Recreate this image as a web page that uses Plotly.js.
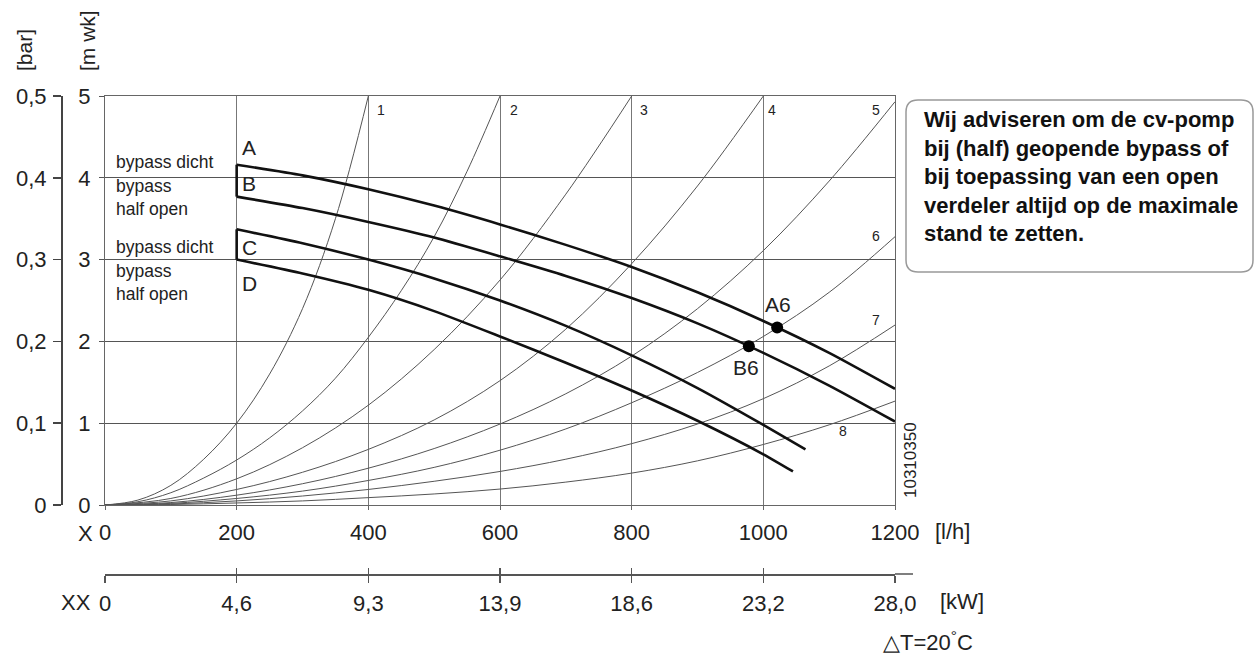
<!DOCTYPE html>
<html>
<head>
<meta charset="utf-8">
<script src="https://cdn.plot.ly/plotly-3.0.1.min.js"></script>
<style>
  html, body { margin: 0; padding: 0; background: #fff; }
  #chart { width: 1259px; height: 657px; }
</style>
</head>
<body>
<div id="chart"></div>
<script>
// Pump curves (head in m wk against flow in l/h)
const flowAB = [200, 300, 400, 500, 600, 700, 800, 900, 1000, 1100, 1200];
const headA = [4.16, 4.03, 3.86, 3.66, 3.43, 3.18, 2.91, 2.60, 2.25, 1.86, 1.42];
const headB = [3.77, 3.63, 3.46, 3.27, 3.04, 2.80, 2.53, 2.22, 1.86, 1.46, 1.02];
const flowC = [200, 300, 400, 500, 600, 700, 800, 900, 1000, 1064];
const headC = [3.37, 3.20, 3.00, 2.77, 2.50, 2.19, 1.83, 1.43, 0.98, 0.68];
const flowD = [200, 300, 400, 500, 600, 700, 800, 900, 1000, 1045];
const headD = [3.00, 2.83, 2.63, 2.37, 2.06, 1.74, 1.40, 1.03, 0.62, 0.41];

// System resistance curves 1..8
const sysFlow1 = [0, 50, 100, 150, 200, 250, 300, 350, 400];
const sysHead1 = [0, 0.06, 0.24, 0.56, 1.0, 1.6, 2.4, 3.5, 5.0];
const sysFlow2 = [0, 50, 100, 150, 200, 250, 300, 350, 400, 450, 500, 550, 600];
const sysHead2 = [0, 0.04, 0.15, 0.33, 0.55, 0.82, 1.15, 1.55, 2.05, 2.62, 3.28, 4.08, 5.0];
const sysFlow3 = [0, 100, 200, 300, 400, 500, 600, 700, 800];
const sysHead3 = [0, 0.08, 0.32, 0.70, 1.22, 1.90, 2.75, 3.80, 5.0];
const sysFlow4 = [0, 100, 200, 300, 400, 500, 600, 700, 800, 900, 1000];
const sysHead4 = [0, 0.05, 0.19, 0.40, 0.68, 1.04, 1.52, 2.15, 2.95, 3.90, 5.0];
const sysFlowLong = [0, 100, 200, 300, 400, 500, 600, 700, 800, 900, 1000, 1100, 1200];
const sysHead5 = [0, 0.03, 0.12, 0.26, 0.45, 0.69, 0.99, 1.36, 1.82, 2.40, 3.11, 3.96, 4.93];
const sysHead6 = [0, 0.02, 0.08, 0.17, 0.30, 0.46, 0.67, 0.93, 1.25, 1.62, 2.06, 2.60, 3.28];
const sysHead7 = [0, 0.012, 0.05, 0.11, 0.19, 0.29, 0.41, 0.56, 0.75, 0.99, 1.30, 1.70, 2.20];
const sysHead8 = [0, 0.006, 0.025, 0.05, 0.09, 0.135, 0.195, 0.28, 0.39, 0.54, 0.74, 0.98, 1.27];

// Operating points
const opFlow = [1021, 978];
const opHead = [2.17, 1.94];
const opLabels = ['A6', 'B6'];

// Axis ticks
const flowTicks = [0, 200, 400, 600, 800, 1000, 1200];
const kwTickText = ['0', '4,6', '9,3', '13,9', '18,6', '23,2', '28,0'];
const headTicks = [0, 1, 2, 3, 4, 5];
const barTicks = [0, 0.1, 0.2, 0.3, 0.4, 0.5];
const barTickText = ['0', '0,1', '0,2', '0,3', '0,4', '0,5'];

const FONT = 'Liberation Sans, Arial, sans-serif';
const W = 1259, H = 657;
const M = { l: 61, r: 0, t: 96, b: 40 };
const PW = W - M.l - M.r, PH = H - M.t - M.b;
// pixel -> paper helpers for the decorations outside the plot
const px = x => (x - M.l) / PW;
const py = y => (H - M.b - y) / PH;
// pixel -> data helpers for labels inside the plot
const PLOT = { x0: 105, x1: 895, y0: 505, y1: 96 };
const dx = x => (x - PLOT.x0) / (PLOT.x1 - PLOT.x0) * 1200;
const dy = y => (PLOT.y0 - y) / (PLOT.y0 - PLOT.y1) * 5;

const thin = { color: '#555', width: 1, shape: 'spline', smoothing: 1 };
const thick = { color: '#111', width: 2.6, shape: 'spline', smoothing: 0.6 };
const join = { color: '#111', width: 2.6 };

function sys(x, y) {
    return { x, y, type: 'scatter', mode: 'lines', line: thin, hoverinfo: 'skip', showlegend: false };
}
function pump(x, y) {
    return { x, y, type: 'scatter', mode: 'lines', line: thick, showlegend: false };
}

const traces = [
    sys(sysFlow1, sysHead1),
    sys(sysFlow2, sysHead2),
    sys(sysFlow3, sysHead3),
    sys(sysFlow4, sysHead4),
    sys(sysFlowLong, sysHead5),
    sys(sysFlowLong, sysHead6),
    sys(sysFlowLong, sysHead7),
    sys(sysFlowLong, sysHead8),
    pump(flowAB, headA),
    pump(flowAB, headB),
    pump(flowC, headC),
    pump(flowD, headD),
    // vertical joins between the closed/half-open pairs at the first flow point
    { x: [flowAB[0], flowAB[0]], y: [headB[0], headA[0]], mode: 'lines', line: join, showlegend: false },
    { x: [flowC[0], flowD[0]], y: [headD[0], headC[0]], mode: 'lines', line: join, showlegend: false },
    { x: opFlow, y: opHead, mode: 'markers', marker: { color: '#000', size: 12 }, showlegend: false },
    // empty traces so the extra axes are drawn
    { x: [], y: [], xaxis: 'x2', yaxis: 'y', showlegend: false },
    { x: [], y: [], xaxis: 'x3', yaxis: 'y', showlegend: false },
    { x: [], y: [], xaxis: 'x', yaxis: 'y2', showlegend: false },
];

const xDomain = [px(PLOT.x0), px(PLOT.x1)];
const yDomain = [py(PLOT.y0), 1];

const annotations = [];
function note(text, x, y, opts = {}) {
    annotations.push(Object.assign({
        text, x, y, xref: 'paper', yref: 'paper', showarrow: false,
        xanchor: 'center', yanchor: 'middle',
        font: { family: FONT, size: 22, color: '#222' },
    }, opts));
}
function label(text, x, y, size, opts = {}) {
    annotations.push(Object.assign({
        text, x: dx(x), y: dy(y), xref: 'x', yref: 'y', showarrow: false,
        xanchor: 'center', yanchor: 'middle',
        font: { family: FONT, size, color: '#222' },
    }, opts));
}

// axis captions
note('[bar]', px(25), py(50), { textangle: -90, font: { family: FONT, size: 21, color: '#222' } });
note('[m wk]', px(88), py(41), { textangle: -90, font: { family: FONT, size: 21, color: '#222' } });
note('X', px(85), py(533));
note('[l/h]', px(952), py(531));
note('XX', px(76), py(602));
note('[kW]', px(938), py(601), { xanchor: 'left' });
note('\u25B3T=20<sup>°</sup>C', px(928), py(641));
note('10310350', px(910), py(460), { textangle: -90, font: { family: FONT, size: 17, color: '#222' } });

// curve numbers
const curveLabels = [['1', 381, 110], ['2', 514, 110], ['3', 644, 110], ['4', 772, 110],
    ['5', 876, 110], ['6', 876, 236], ['7', 876, 320], ['8', 843, 431]];
for (const [t, x, y] of curveLabels) label(t, x, y, 14);

// pump curve letters and bypass captions
for (const [t, y] of [['A', 147], ['B', 183], ['C', 247], ['D', 283]]) label(t, 249, y, 21);
label('bypass dicht', 114, 162, 17.5, { xanchor: 'left' });
label('bypass<br>half open', 114, 197, 17.5, { xanchor: 'left', align: 'left' });
label('bypass dicht', 114, 247, 17.5, { xanchor: 'left' });
label('bypass<br>half open', 114, 282, 17.5, { xanchor: 'left', align: 'left' });

// operating point names
label(opLabels[0], 778, 304, 21);
label(opLabels[1], 746, 367, 21);

// advice box
note('<b>Wij adviseren om de cv-pomp<br>bij (half) geopende bypass of<br>bij toepassing van een open<br>verdeler altijd op de maximale<br>stand te zetten.</b>',
    px(922), py(105), { xanchor: 'left', yanchor: 'top', align: 'left',
        font: { family: FONT, size: 22, color: '#111' } });

function roundRect(x0, y0, x1, y1, r) {
    const X = v => px(v), Y = v => py(v);
    return `M${X(x0 + r)},${Y(y0)} L${X(x1 - r)},${Y(y0)} Q${X(x1)},${Y(y0)} ${X(x1)},${Y(y0 + r)} ` +
        `L${X(x1)},${Y(y1 - r)} Q${X(x1)},${Y(y1)} ${X(x1 - r)},${Y(y1)} ` +
        `L${X(x0 + r)},${Y(y1)} Q${X(x0)},${Y(y1)} ${X(x0)},${Y(y1 - r)} ` +
        `L${X(x0)},${Y(y0 + r)} Q${X(x0)},${Y(y0)} ${X(x0 + r)},${Y(y0)} Z`;
}

const shapes = [
    { type: 'path', xref: 'paper', yref: 'paper', path: roundRect(906, 100, 1253, 272, 12),
      line: { color: '#999', width: 1.5 } },
    // kW scale line runs a little past the last tick
    { type: 'line', xref: 'paper', yref: 'paper', x0: px(895), x1: px(913), y0: py(574), y1: py(574),
      line: { color: '#555', width: 1.5 } },
];

const tickFont = { family: FONT, size: 22, color: '#222' };

const layout = {
    width: W, height: H,
    margin: M,
    paper_bgcolor: '#fff', plot_bgcolor: '#fff',
    font: { family: FONT },
    showlegend: false,
    xaxis: {
        domain: xDomain, range: [0, 1200], tickvals: flowTicks,
        showgrid: true, gridcolor: '#777', gridwidth: 1, zeroline: false,
        showline: true, linecolor: '#666', linewidth: 1, mirror: true,
        ticks: 'outside', ticklen: 4, tickcolor: '#666', ticklabelstandoff: 4,
        tickfont: tickFont,
    },
    xaxis2: {
        overlaying: 'x', anchor: 'free', position: py(574), side: 'bottom',
        range: [0, 1200], tickvals: flowTicks, ticktext: kwTickText,
        showgrid: false, zeroline: false,
        showline: true, linecolor: '#555', linewidth: 1.5,
        ticks: 'outside', ticklen: 7, tickcolor: '#555', tickwidth: 1.5, ticklabelstandoff: 2,
        tickfont: tickFont,
    },
    xaxis3: {
        overlaying: 'x', anchor: 'free', position: py(574), side: 'bottom',
        range: [0, 1200], tickvals: flowTicks, showticklabels: false,
        showgrid: false, zeroline: false, showline: false,
        ticks: 'inside', ticklen: 6, tickcolor: '#555', tickwidth: 1.5,
    },
    yaxis: {
        domain: yDomain, range: [0, 5], tickvals: headTicks,
        showgrid: true, gridcolor: '#555', gridwidth: 1, zeroline: false,
        showline: true, linecolor: '#666', linewidth: 1, mirror: true,
        ticks: 'outside', ticklen: 5, tickcolor: '#555', ticklabelstandoff: 4,
        tickfont: tickFont,
    },
    yaxis2: {
        overlaying: 'y', anchor: 'free', position: 0, side: 'left',
        range: [0, 0.5], tickvals: barTicks, ticktext: barTickText,
        showgrid: false, zeroline: false,
        showline: true, linecolor: '#444', linewidth: 1.5,
        ticks: 'outside', ticklen: 8, tickcolor: '#444', tickwidth: 1.5, ticklabelstandoff: 2,
        tickfont: tickFont,
    },
    annotations,
    shapes,
};

Plotly.newPlot('chart', traces, layout, { staticPlot: true, displayModeBar: false });
</script>
</body>
</html>
